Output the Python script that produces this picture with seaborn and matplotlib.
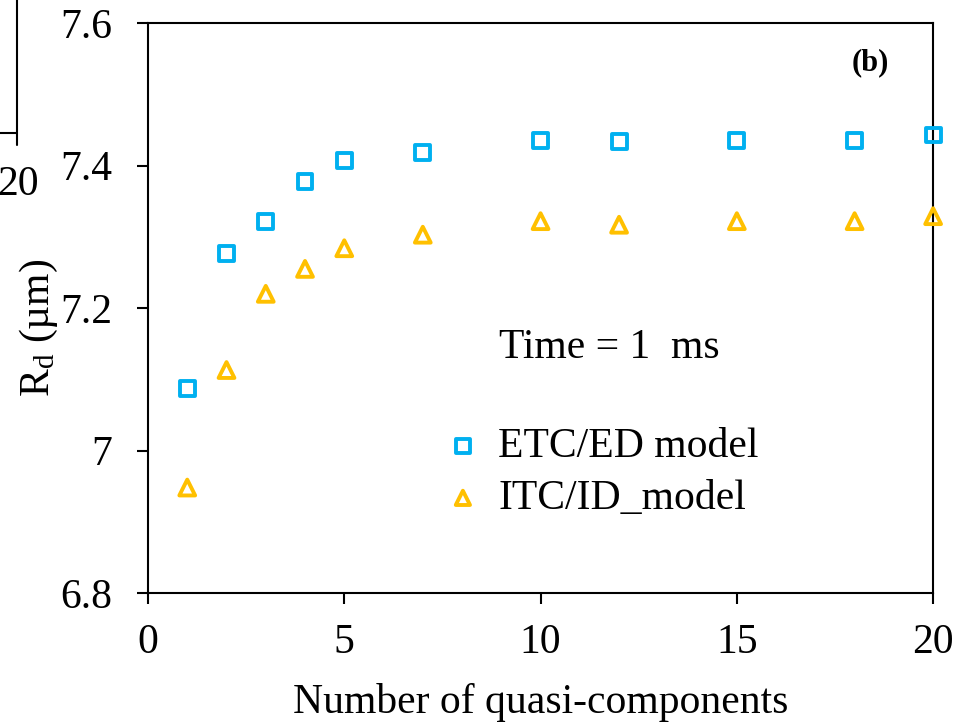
import matplotlib
matplotlib.use("Agg")
import matplotlib.pyplot as plt
from matplotlib.lines import Line2D
import seaborn as sns
import pandas as pd

# values
n_components = [1, 2, 3, 4, 5, 7, 10, 12, 15, 18, 20]
rd_etc = [7.087, 7.277, 7.322, 7.378, 7.407, 7.418, 7.435, 7.434, 7.435, 7.435, 7.443]
rd_itc = [6.948, 7.113, 7.220, 7.255, 7.284, 7.303, 7.322, 7.317, 7.322, 7.322, 7.329]
series_names = ["ETC/ED model", "ITC/ID_model"]
x_ticks = [0, 5, 10, 15, 20]
y_ticks = [6.8, 7.0, 7.2, 7.4, 7.6]
y_ticklabels = ["6.8", "7", "7.2", "7.4", "7.6"]

CYAN = "#00B0F0"
GOLD = "#FFC000"

sns.set_style("ticks")
plt.rcParams["font.family"] = ["Liberation Serif", "DejaVu Serif"]
plt.rcParams["mathtext.fontset"] = "custom"
plt.rcParams["mathtext.rm"] = "Liberation Serif"
plt.rcParams["mathtext.it"] = "Liberation Serif:italic"
plt.rcParams["text.color"] = "black"
plt.rcParams["axes.labelcolor"] = "black"
plt.rcParams["xtick.color"] = "black"
plt.rcParams["ytick.color"] = "black"

df = pd.DataFrame({
    "n": n_components * 2,
    "rd": rd_etc + rd_itc,
    "model": [series_names[0]] * len(n_components) + [series_names[1]] * len(n_components),
})

fig = plt.figure(figsize=(9.61, 7.24), dpi=100)
ax = fig.add_axes([0.154, 0.181, 0.817, 0.787])

sns.scatterplot(data=df[df["model"] == series_names[0]], x="n", y="rd", ax=ax,
                marker="s", s=115, facecolors="none", edgecolor=CYAN,
                linewidth=2.8, label=series_names[0], zorder=3, clip_on=False)
sns.scatterplot(data=df[df["model"] == series_names[1]], x="n", y="rd", ax=ax,
                marker="^", s=130, facecolors="none", edgecolor=GOLD,
                linewidth=2.8, label=series_names[1], zorder=3, clip_on=False)

ax.set_xlim(0, 20)
ax.set_ylim(6.8, 7.6)
ax.set_xticks(x_ticks)
ax.set_yticks(y_ticks)
ax.set_yticklabels(y_ticklabels)
ax.tick_params(axis="both", which="major", labelsize=30, direction="out",
               length=8, width=1.5, color="black", labelcolor="black",
               bottom=True, left=True, top=False, right=False)
ax.tick_params(axis="y", pad=18)
ax.tick_params(axis="x", pad=14)
for side in ["left", "bottom", "right", "top"]:
    ax.spines[side].set_visible(True)
    ax.spines[side].set_color("black")
    ax.spines[side].set_linewidth(1.5)

ax.set_xlabel("Number of quasi-components", fontsize=30, labelpad=15)
ax.set_ylabel(r"R$_\mathregular{d}$ (µm)", fontsize=30, labelpad=0)
ax.yaxis.set_label_coords(-0.112, 0.465)

ax.text(0.447, 0.43, "Time = 1  ms", transform=ax.transAxes, fontsize=30,
        ha="left", va="center")
ax.text(0.92, 0.93, "(b)", transform=ax.transAxes, fontsize=22,
        fontweight="bold", ha="center", va="center")

ax.legend(loc="upper left", bbox_to_anchor=(0.348, 0.327), frameon=False,
          fontsize=30, handletextpad=0.35, labelspacing=0.32, borderpad=0,
          handlelength=1.0, markerscale=0.9)

# fragment of the neighbouring panel visible at the left edge
fig.add_artist(Line2D([0.018, 0.018], [1.0, 0.80], transform=fig.transFigure,
                      color="black", lw=1.5))
fig.add_artist(Line2D([0.0, 0.018], [0.816, 0.816], transform=fig.transFigure,
                      color="black", lw=1.5))
fig.text(0.040, 0.745, "20", fontsize=30, ha="right", va="center")

fig.savefig("out.png", dpi=100, facecolor="white")
